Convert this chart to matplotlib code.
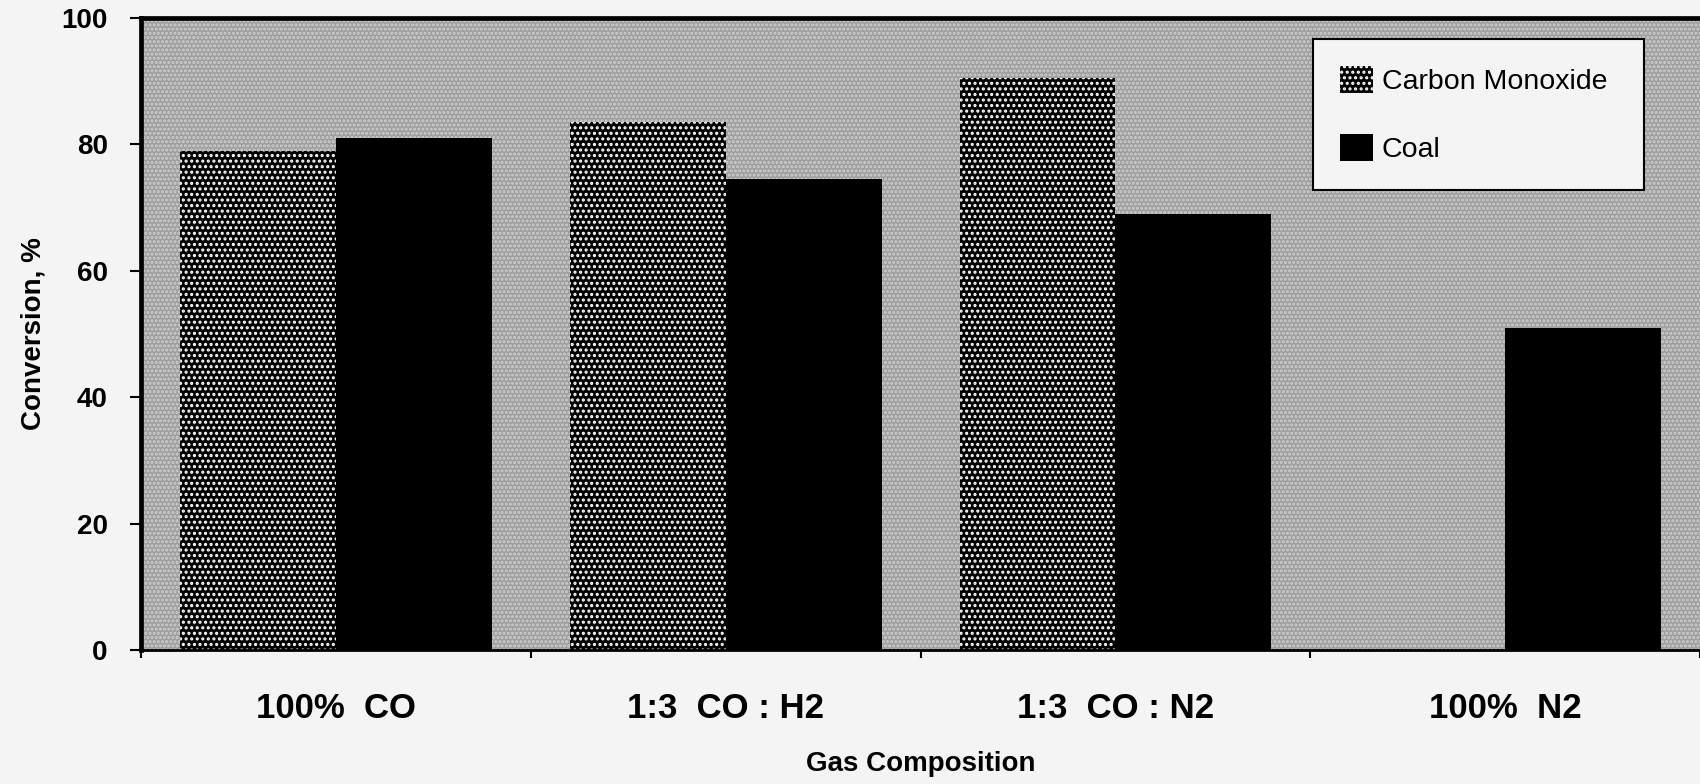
import numpy as np
import matplotlib.pyplot as plt
import matplotlib as mpl
from matplotlib.patches import Rectangle

plt.rcParams['font.family'] = ['Liberation Sans', 'DejaVu Sans']
plt.rcParams['hatch.linewidth'] = 1.5

# 変換率データ
gases = ["100%  CO", "1:3  CO : H2", "1:3  CO : N2", "100%  N2"]
co_conv = [79.0, 83.5, 90.5, np.nan]     # 100% N2 では CO なし
coal_conv = [81.0, 74.5, 69.0, 51.0]

fig = plt.figure(figsize=(17, 7.84), dpi=100, facecolor='#f4f4f4')
ax = fig.add_axes([0.083, 0.171, 0.917, 0.806])

# 背景の網点
ax.set_facecolor('#9e9e9e')
ax.add_patch(Rectangle((0, 0), 1, 1, transform=ax.transAxes, facecolor='none',
                       edgecolor='#cfcfcf', hatch='....', lw=0, zorder=0))

x = np.arange(len(gases))
w = 0.4
ax.bar(x - w / 2, co_conv, w, facecolor='black', edgecolor='white', hatch='...',
       lw=0, label='Carbon Monoxide', zorder=2)
ax.bar(x + w / 2, coal_conv, w, color='black', lw=0, label='Coal', zorder=2)

ax.set_xlim(-0.5, len(gases) - 0.5)
ax.set_ylim(0, 100)
ax.set_yticks(np.arange(0, 101, 20))
ax.set_xticks(x)
ax.set_xticklabels(gases, fontsize=25, fontweight='bold')
ax.set_xticks(np.arange(-0.5, len(gases), 1), minor=True)
ax.tick_params(axis='x', which='major', length=0, pad=30)
ax.tick_params(axis='x', which='minor', length=6, width=1.5, direction='out')
ax.tick_params(axis='y', length=8, width=1.5, direction='out', pad=16, labelsize=20)
for t in ax.get_yticklabels():
    t.set_fontweight('bold')

ax.spines['right'].set_visible(False)
ax.spines['top'].set_linewidth(3.4)
ax.spines['left'].set_linewidth(3.4)
ax.spines['bottom'].set_linewidth(2)

ax.set_xlabel('Gas Composition', fontsize=20, fontweight='bold', labelpad=19)
ax.set_ylabel('Conversion, %', fontsize=20, fontweight='bold', labelpad=11)

leg = ax.legend(loc='upper left', bbox_to_anchor=(0.752, 0.722, 0.212, 0.245),
                mode='expand', borderaxespad=0, fontsize=20.5, fancybox=False,
                framealpha=1, facecolor='#f4f4f4', edgecolor='black',
                borderpad=0.95, labelspacing=1.35, handlelength=1.15,
                handleheight=1.1, handletextpad=0.3)
leg.get_frame().set_linewidth(1.5)

fig.savefig('out.png', dpi=100, facecolor=fig.get_facecolor())
